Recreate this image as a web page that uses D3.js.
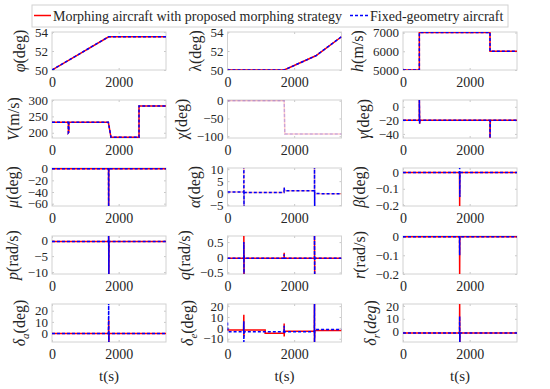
<!DOCTYPE html>
<html>
<head>
  <script src="https://cdn.jsdelivr.net/npm/d3@7"></script>
  <style>
    body { margin: 0; background: #fff; }
    svg, svg text { font-family: "Liberation Serif", "DejaVu Serif", serif !important; }
    text { fill: #262626; }
    .box { fill: none; stroke: #d2d2d2; stroke-width: 1; }
    .axis path { display: none; }
    .axis line { stroke: #c8c8c8; }
    .morph { fill: none; stroke: #ff0000; stroke-width: 1.5; }
    .fixed { fill: none; stroke: #0000ff; stroke-width: 1.5; stroke-dasharray: 3,2; }
  </style>
</head>
<body>
<script>
  var W = 550, H = 389;
  var T_MAX = 3420;
  var tTicks = [0, 2000];

  // latitude phi
  var phiT = [0, 1700, 3420];
  var phiMorph = [50, 53.5, 53.5];
  var phiFixed = [50, 53.5, 53.5];
  // longitude lambda
  var lamT = [0, 1700, 2650, 3420];
  var lamMorph = [50, 50, 51.5, 53.5];
  var lamFixed = [50, 50, 51.5, 53.5];
  // altitude h
  var hT = [0, 490, 490, 2610, 2610, 3420];
  var hMorph = [5000, 5000, 7000, 7000, 6000, 6000];
  var hFixed = [5000, 5000, 7000, 7000, 6000, 6000];
  // velocity V
  var vT = [0, 490, 490, 505, 505, 1690, 1770, 2610, 2610, 3420];
  var vMorph = [232, 232, 200, 202, 232, 232, 186, 186, 282, 282];
  var vFixed = [232, 232, 200, 202, 232, 232, 186, 186, 282, 282];
  // heading chi
  var chiT = [0, 1700, 1720, 3420];
  var chiMorph = [0, 0, -94, -94];
  var chiFixed = [0, 0, -94, -94];
  // flight path gamma
  var gamT = [0, 490, 490, 500, 505, 2610, 2610, 2620, 3420];
  var gamMorph = [-20, -20, 12, -25, -20, -20, -46, -20, -20];
  var gamFixed = [-20, -20, 12, -25, -20, -20, -46, -20, -20];
  // bank mu
  var muT = [0, 1695, 1700, 1705, 1710, 3420];
  var muMorph = [0, 0, -70, 1, 0, 0];
  var muFixed = [0, 0, -70, 1, 0, 0];
  // attack alpha
  var alpT = [0, 490, 490, 495, 495, 505, 1695, 1700, 1710, 2610, 2610, 2615, 2615, 2625, 3420];
  var alpMorph = [0.5, 0.5, 11, -6, 1.0, 0.3, 0.3, 2.3, 1.0, 1.0, 11, -6, 0.2, -0.2, -0.3];
  var alpFixed = [0.5, 0.5, 11, -6, 1.0, 0.3, 0.3, 2.3, 1.0, 1.0, 11, -6, 0.2, -0.2, -0.3];
  // sideslip beta
  var betT = [0, 1695, 1700, 1705, 1710, 3420];
  var betMorph = [0, 0, -0.21, 0.005, 0, 0];
  var betFixed = [0, 0, 0.03, -0.15, 0, 0];
  // roll rate p
  var pT = [0, 1695, 1700, 1705, 1710, 3420];
  var pMorph = [-0.4, -0.4, 1.5, -11, -0.4, -0.4];
  var pFixed = [-0.4, -0.4, 1.5, -11, -0.4, -0.4];
  // pitch rate q
  var qT = [0, 490, 490, 495, 495, 505, 1695, 1700, 1705, 2610, 2610, 2615, 2615, 3420];
  var qMorph = [-0.03, -0.03, 0.8, -0.6, 0.1, -0.03, -0.03, 0.15, -0.03, -0.03, 0.8, -0.6, -0.03, -0.03];
  var qFixed = [-0.03, -0.03, 0.5, -0.6, 0.05, -0.03, -0.03, 0.1, -0.03, -0.03, 0.8, -0.6, -0.03, -0.03];
  // yaw rate r
  var rT = [0, 1695, 1700, 1705, 3420];
  var rMorph = [-0.001, -0.001, -0.21, -0.001, -0.001];
  var rFixed = [-0.001, -0.001, -0.1, -0.001, -0.001];
  // aileron
  var daT = [0, 1695, 1700, 1705, 1710, 3420];
  var daMorph = [-0.5, -0.5, 12, -9, -0.5, -0.5];
  var daFixed = [-0.5, -0.5, 27, -9, -0.5, -0.5];
  // elevator
  var deMorphT = [0, 5, 480, 490, 490, 500, 1130, 1130, 1695, 1700, 1700, 1710, 2605, 2610, 2610, 2620, 3420];
  var deMorph = [-1, -2, -2, 12, -8, -2, -2, -5, -5, 4, -8, -3, -3, 22, -13, -2.5, -2.5];
  var deFixedT = [0, 10, 485, 490, 490, 500, 1695, 1700, 1700, 1710, 2605, 2610, 2610, 2620, 3420];
  var deFixed = [5, -3.5, -3.5, 6, -13, -3.5, -3.5, 2, -5, -3.5, -3.5, 23, -14, -1.5, -1.5];
  // rudder
  var drT = [0, 1695, 1700, 1705, 1710, 3420];
  var drMorph = [-1, -1, 23, -9, -1, -1];
  var drFixed = [-1, -1, 12, -9, -1, -1];

  var panels = [
    { label: [["φ", "it"], ["(deg)", ""]], domain: [50, 54], ticks: [50, 52, 54], tm: phiT, ym: phiMorph, tf: phiT, yf: phiFixed },
    { label: [["λ", ""], ["(deg)", ""]], domain: [50, 54], ticks: [50, 52, 54], tm: lamT, ym: lamMorph, tf: lamT, yf: lamFixed },
    { label: [["h", "it"], ["(m/s)", ""]], domain: [5000, 7030], ticks: [5000, 6000, 7000], tm: hT, ym: hMorph, tf: hT, yf: hFixed },
    { label: [["V", "it"], ["(m/s)", ""]], domain: [184, 300], ticks: [200, 250, 300], tm: vT, ym: vMorph, tf: vT, yf: vFixed },
    { label: [["χ", ""], ["(deg)", ""]], domain: [-105, 2], ticks: [-100, -50, 0], tm: chiT, ym: chiMorph, tf: chiT, yf: chiFixed, faint: true },
    { label: [["γ", "it"], ["(deg)", ""]], domain: [-46, 10], ticks: [-40, -20, 0], tm: gamT, ym: gamMorph, tf: gamT, yf: gamFixed },
    { label: [["μ", "it"], ["(deg)", ""]], domain: [-64, 1.2], ticks: [-60, -40, -20, 0], tm: muT, ym: muMorph, tf: muT, yf: muFixed },
    { label: [["α", "it"], ["(deg)", ""]], domain: [-5.4, 10.5], ticks: [-5, 0, 5, 10], tm: alpT, ym: alpMorph, tf: alpT, yf: alpFixed, faintRed: true },
    { label: [["β", "it"], ["(deg)", ""]], domain: [-0.206, 0.028], ticks: [-0.2, -0.1, 0], tm: betT, ym: betMorph, tf: betT, yf: betFixed },
    { label: [["p", "it"], ["(rad/s)", ""]], domain: [-10.6, 1.3], ticks: [-10, -5, 0], tm: pT, ym: pMorph, tf: pT, yf: pFixed },
    { label: [["q", "it"], ["(rad/s)", ""]], domain: [-0.55, 0.7], ticks: [-0.5, 0, 0.5], tm: qT, ym: qMorph, tf: qT, yf: qFixed },
    { label: [["r", "it"], ["(rad/s)", ""]], domain: [-0.2, 0.003], ticks: [-0.2, -0.1, 0], tm: rT, ym: rMorph, tf: rT, yf: rFixed },
    { label: [["δ", "it"], ["a", "sub"], ["(deg)", ""]], domain: [-8, 26], ticks: [0, 10, 20], tm: daT, ym: daMorph, tf: daT, yf: daFixed },
    { label: [["δ", "it"], ["e", "sub"], ["(deg)", ""]], domain: [-13, 22], ticks: [-10, 0, 10, 20], tm: deMorphT, ym: deMorph, tf: deFixedT, yf: deFixed },
    { label: [["δ", "it"], ["r", "sub"], ["(", ""], ["deg", "it"], [")", ""]], domain: [-8, 21.5], ticks: [0, 10, 20], tm: drT, ym: drMorph, tf: drT, yf: drFixed }
  ];

  var colLeft = [52, 227.5, 403];
  var rowTop = [32, 100, 168, 236, 304];
  var boxW = 114, boxH = 38;

  var svg = d3.select("body").append("svg")
    .attr("width", W)
    .attr("height", H);

  var x = d3.scaleLinear().domain([0, T_MAX]).range([0, boxW]);
  var fmt = d3.format("~g");

  function addLabel(textSel, parts) {
    parts.forEach(function(p, i) {
      var ts = textSel.append("tspan").text(p[0]);
      if (p[1] == "it") ts.attr("font-style", "italic");
      if (p[1] == "sub") ts.attr("font-style", "italic").attr("font-size", 11).attr("dy", 4);
      if (i > 0 && parts[i - 1][1] == "sub") ts.attr("dy", -4);
    });
  }

  panels.forEach(function(p, i) {
    var col = i % 3, row = Math.floor(i / 3);
    var g = svg.append("g")
      .attr("transform", "translate(" + colLeft[col] + "," + rowTop[row] + ")");
    var y = d3.scaleLinear().domain(p.domain).range([boxH, 0]);

    svg.append("clipPath").attr("id", "clip" + i)
      .append("rect").attr("width", boxW).attr("height", boxH);

    // ticks point inward, on all four sides
    var xa = g.append("g").attr("class", "axis")
      .attr("transform", "translate(0," + boxH + ")")
      .call(d3.axisBottom(x).tickValues(tTicks).tickSize(-2).tickPadding(7).tickFormat(fmt));
    g.append("g").attr("class", "axis")
      .call(d3.axisTop(x).tickValues(tTicks).tickSize(-2).tickFormat(""));
    var ya = g.append("g").attr("class", "axis")
      .call(d3.axisLeft(y).tickValues(p.ticks).tickSize(-2).tickPadding(4).tickFormat(fmt));
    g.append("g").attr("class", "axis")
      .attr("transform", "translate(" + boxW + ",0)")
      .call(d3.axisRight(y).tickValues(p.ticks).tickSize(-2).tickFormat(""));
    g.selectAll(".axis").attr("font-family", null).attr("font-size", null);
    xa.selectAll("text").attr("font-size", 14).attr("fill", "#262626");
    ya.selectAll("text").attr("font-size", 13).attr("fill", "#262626");

    g.append("rect").attr("class", "box").attr("width", boxW).attr("height", boxH);

    var plot = g.append("g").attr("clip-path", "url(#clip" + i + ")");
    var line = d3.line().x(function(d) { return x(d[0]); }).y(function(d) { return y(d[1]); });
    plot.append("path").attr("class", "morph").attr("d", line(d3.zip(p.tm, p.ym)))
      .attr("stroke-opacity", p.faint ? 0.2 : (p.faintRed ? 0.3 : 1));
    plot.append("path").attr("class", "fixed").attr("d", line(d3.zip(p.tf, p.yf)))
      .attr("stroke-opacity", p.faint ? 0.2 : 1);

    // y label left of widest tick label
    var maxW = 0;
    ya.selectAll("text").each(function() { maxW = Math.max(maxW, this.getComputedTextLength()); });
    var lx = -4 - maxW - 10;
    var lab = g.append("text")
      .attr("transform", "translate(" + lx + "," + (boxH / 2) + ") rotate(-90)")
      .attr("text-anchor", "middle")
      .attr("font-size", 16);
    addLabel(lab, p.label);

    if (row == 4) {
      g.append("text")
        .attr("x", boxW / 2)
        .attr("y", boxH + 39)
        .attr("text-anchor", "middle")
        .attr("font-size", 15)
        .text("t(s)");
    }
  });

  // legend
  var leg = svg.append("g");
  leg.append("rect")
    .attr("x", 32).attr("y", 5).attr("width", 476).attr("height", 22)
    .attr("fill", "#fff").attr("stroke", "#d2d2d2");
  leg.append("line").attr("class", "morph")
    .attr("x1", 34).attr("x2", 51).attr("y1", 15.5).attr("y2", 15.5);
  leg.append("text").attr("x", 53).attr("y", 20.5).attr("font-size", 14)
    .text("Morphing aircraft with proposed morphing strategy");
  leg.append("line").attr("class", "fixed")
    .attr("x1", 350).attr("x2", 368).attr("y1", 15.5).attr("y2", 15.5);
  leg.append("text").attr("x", 370).attr("y", 20.5).attr("font-size", 14)
    .text("Fixed-geometry aircraft");
</script>
</body>
</html>
